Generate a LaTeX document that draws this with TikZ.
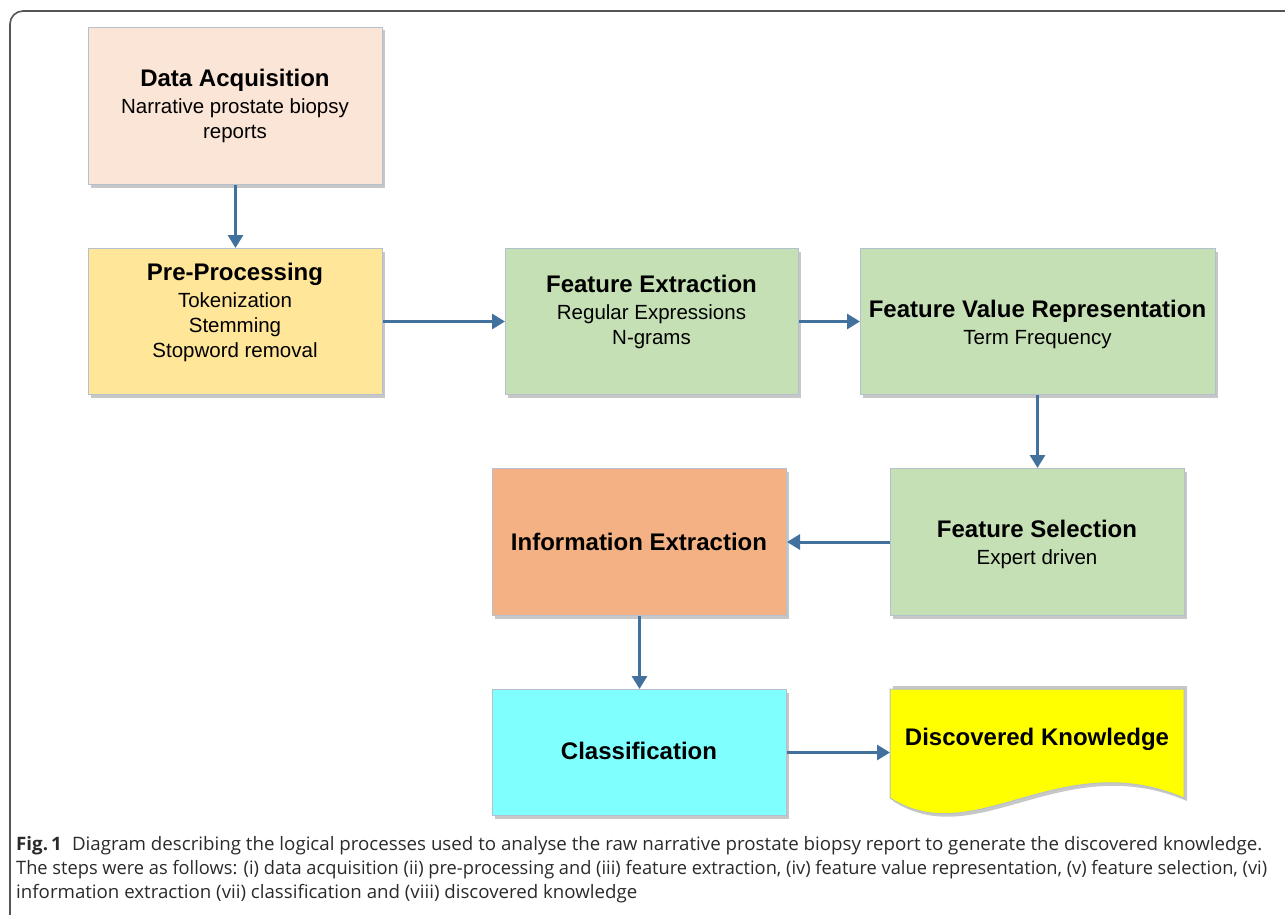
\documentclass[tikz,border=0pt]{standalone}
\usepackage{fontspec}
\setmainfont{Liberation Sans}
\newfontfamily\capfont{Open Sans}
\usetikzlibrary{arrows.meta,shadows}
\definecolor{daC}{HTML}{FBE5D6}
\definecolor{ppC}{HTML}{FFE699}
\definecolor{grC}{HTML}{C5E0B4}
\definecolor{ieC}{HTML}{F4B183}
\definecolor{clC}{HTML}{80FFFF}
\definecolor{dkC}{HTML}{FFFF00}
\definecolor{bdC}{HTML}{B4C0CE}
\definecolor{arC}{HTML}{41719C}
\definecolor{frC}{HTML}{555555}
\definecolor{capC}{HTML}{2A2A2A}
\newcommand{\ttlf}{\fontsize{24}{27}\selectfont\bfseries}
\newcommand{\bodyf}{\fontsize{20.5}{25}\selectfont}
\newcommand{\capf}{\capfont\fontsize{18.5}{24}\selectfont}
\tikzset{
  procbox/.style={draw=bdC, line width=1pt, anchor=north west, inner sep=0pt,
    drop shadow={shadow xshift=2pt, shadow yshift=-3pt, opacity=.22, fill=black}},
  lbl/.style={align=center, inner sep=0pt, font=\bodyf, text=black},
  flow/.style={draw=arC, line width=3pt, -{Triangle[length=13pt,width=15pt]}},
  capline/.style={anchor=base west, inner sep=0pt, font=\capf, text=capC}
}
\begin{document}
\begin{tikzpicture}[x=1pt,y=-1pt]
\useasboundingbox (0,0) rectangle (1285,915);
\begin{scope}
\clip (0,0) rectangle (1285,915);
\draw[frC, line width=1.6pt, rounded corners=13pt] (10,11) rectangle (1320,950);
\end{scope}

% boxes
\node[procbox, fill=daC, minimum width=294pt, minimum height=157pt] (da) at (88,27) {};
\node[procbox, fill=ppC, minimum width=294pt, minimum height=146pt] (pp) at (88,248) {};
\node[procbox, fill=grC, minimum width=293pt, minimum height=146pt] (fe) at (505,248) {};
\node[procbox, fill=grC, minimum width=355pt, minimum height=146pt] (fvr) at (860,248) {};
\node[procbox, fill=grC, minimum width=294pt, minimum height=147pt] (fs) at (890,468) {};
\node[procbox, fill=ieC, minimum width=294pt, minimum height=147pt] (ie) at (492,468) {};
\node[procbox, fill=clC, minimum width=294pt, minimum height=126pt] (cl) at (492,689) {};
% discovered knowledge (document shape)
\node[anchor=north west, inner sep=0pt, minimum width=294pt, minimum height=109pt] (dk) at (890,689) {};
\fill[black, opacity=.22] (893,686) -- (1187,686) -- (1187,801)
  .. controls (1062,748) and (977,855) .. (893,801) -- cycle;
\filldraw[fill=dkC, draw=bdC, line width=1pt] (890,689) -- (1184,689) -- (1184,798)
  .. controls (1059,745) and (974,852) .. (890,798) -- cycle;

% labels
\node[lbl] at (235,106) {{\ttlf Data Acquisition}\\[2pt] Narrative prostate biopsy\\ reports};
\node[lbl] at (235,312) {{\ttlf Pre-Processing}\\[2pt] Tokenization\\ Stemming\\ Stopword removal};
\node[lbl] at (651.5,312) {{\ttlf Feature Extraction}\\[2pt] Regular Expressions\\ N-grams};
\node[lbl] at (1037.5,324) {{\ttlf Feature Value Representation}\\[2pt] Term Frequency};
\node[lbl] at (1037,544) {{\ttlf Feature Selection}\\[2pt] Expert driven};
\node[lbl, font=\ttlf] at (639,542) {Information Extraction};
\node[lbl, font=\ttlf] at (639,751) {Classification};
\node[lbl, font=\ttlf] at (1037,739) {Discovered Knowledge};

% connectors
\draw[flow] (da.south) -- (pp.north);
\draw[flow] (pp.east) -- (fe.west);
\draw[flow] (fe.east) -- (fvr.west);
\draw[flow] (fvr.south -| fs.north) -- (fs.north);
\draw[flow] (fs.west) -- (ie.east);
\draw[flow] (ie.south) -- (cl.north);
\draw[flow] (cl.east) -- (cl.east -| dk.west);

% caption
\node[capline] (c1) at (16,850) {\resizebox{1246pt}{\height}{\textbf{Fig.\,1}\hspace{10pt}Diagram describing the logical processes used to analyse the raw narrative prostate biopsy report to generate the discovered knowledge.}};
\node[capline] (c2) at (16,874) {\resizebox{1251pt}{\height}{The steps were as follows: (i) data acquisition (ii) pre-processing and (iii) feature extraction, (iv) feature value representation, (v) feature selection, (vi)}};
\node[capline] (c3) at (16,898) {\resizebox{621pt}{\height}{information extraction (vii) classification and (viii) discovered knowledge}};
\end{tikzpicture}
\end{document}
